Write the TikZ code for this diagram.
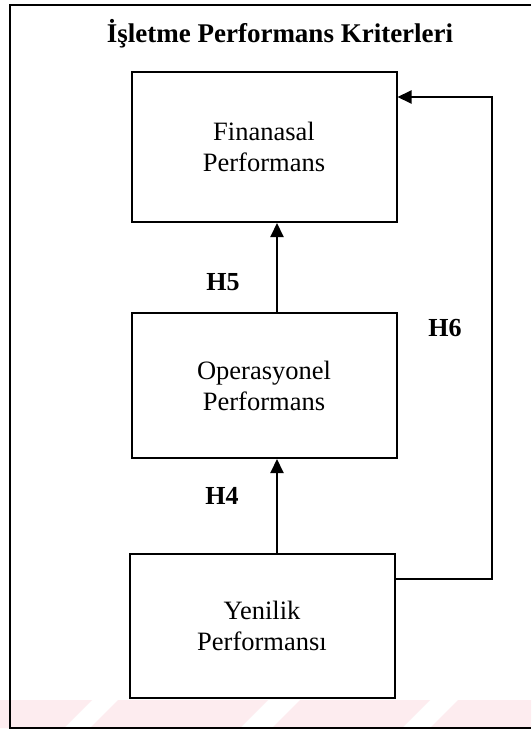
\documentclass[tikz,border=0pt]{standalone}
\usepackage{fontspec}
\setmainfont{Liberation Serif}
\usetikzlibrary{arrows.meta}
\definecolor{wmpink}{RGB}{253,236,239}
\tikzset{
  critbox/.style={draw, line width=2pt, minimum width=265pt, align=center,
    font=\fontsize{26.5}{31}\selectfont, inner sep=0pt},
  hlabel/.style={font=\fontsize{26}{31}\selectfont\bfseries, inner sep=0pt},
  titletext/.style={font=\fontsize{27}{31}\selectfont\bfseries, inner sep=0pt},
  link/.style={line width=2pt, -{Triangle[length=14pt,width=13pt]}},
  frame/.style={line width=2.2pt}
}
\begin{document}
\begin{tikzpicture}[x=1pt,y=-1pt]
  \path[use as bounding box, fill=white] (0,0) rectangle (531,730);

  % faint diagonal band along the lower edge
  \begin{scope}
    \clip (0,700) rectangle (531,728);
    \fill[wmpink] (0,700) -- (92,700) -- (64,728) -- (0,728) -- cycle;
    \fill[wmpink] (118,700) -- (268,700) -- (240,728) -- (90,728) -- cycle;
    \fill[wmpink] (300,700) -- (430,700) -- (402,728) -- (272,728) -- cycle;
    \fill[wmpink] (458,700) -- (531,700) -- (531,728) -- (430,728) -- cycle;
  \end{scope}

  % outer frame (open on the right)
  \draw[frame] (531,5) -- (10,5) -- (10,728) -- (531,728);

  % title
  \node[titletext] (title) at (280,34) {İşletme Performans Kriterleri};

  % criteria boxes
  \node[critbox, minimum height=150pt] (fin) at (264,147) {Finanasal\\Performans};
  \node[critbox, minimum height=145pt] (op)  at (264,385.5) {Operasyonel\\Performans};
  \node[critbox, minimum height=144pt] (yen) at (262,626) {Yenilik\\Performansı};

  % hypotheses
  \draw[link] ([xshift=13pt]op.north) -- ([xshift=13pt]fin.south);
  \draw[link] ([xshift=15pt]yen.north) -- ([xshift=13pt]op.south);
  \coordinate (fb) at (492,97);
  \draw[link] ([yshift=47pt]yen.east) -| (fb) -- ([yshift=50pt]fin.east);

  \node[hlabel] (h5) at (223,282) {H5};
  \node[hlabel] (h4) at (222,496) {H4};
  \node[hlabel] (h6) at (445,328) {H6};
\end{tikzpicture}
\end{document}
